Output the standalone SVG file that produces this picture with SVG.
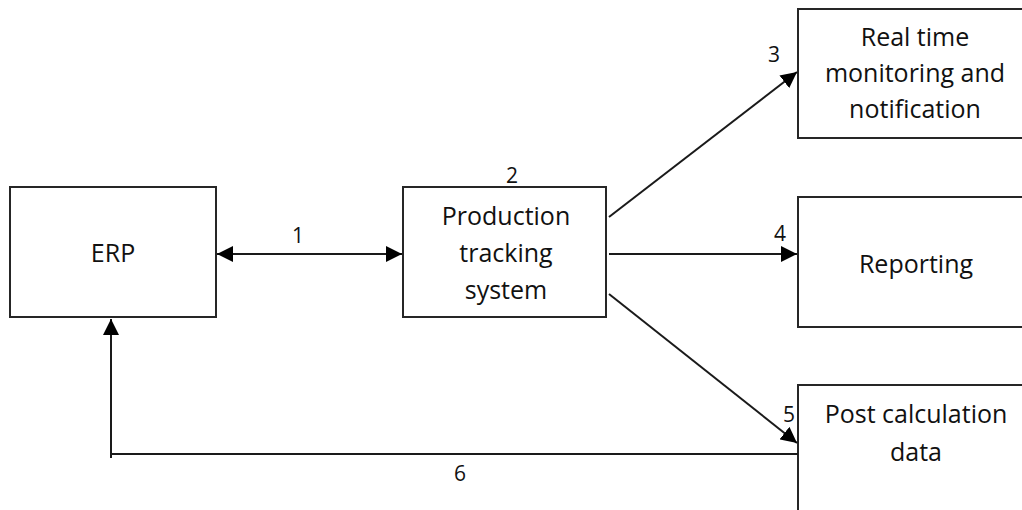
<svg xmlns="http://www.w3.org/2000/svg" width="1022" height="510" viewBox="0 0 1022 510">
<style>
.box{fill:#fff;stroke:#262626;stroke-width:2}
.t{font-family:"Open Sans","Noto Sans",sans-serif;font-size:25px;fill:#111;text-anchor:middle}
.n{font-family:"Open Sans","Noto Sans",sans-serif;font-size:21px;fill:#111;text-anchor:middle}
.c{fill:none;stroke:#1a1a1a;stroke-width:2}
</style>
<defs>
<marker id="ahb" viewBox="0 0 10 10" refX="10" refY="5" markerWidth="16" markerHeight="16" markerUnits="userSpaceOnUse" orient="auto-start-reverse">
<path d="M0,0 L10,5 L0,10 z" fill="#000"/>
</marker>
</defs>
<rect width="1022" height="510" fill="#fff"/>
<g id="erp"><rect class="box" x="10" y="187" width="206" height="130"/><text class="t" x="113" y="262">ERP</text></g>
<g id="pts"><rect class="box" x="403" y="187" width="203" height="130"/>
<text class="t" x="506" y="225">Production</text><text class="t" x="506" y="262">tracking</text><text class="t" x="506" y="299">system</text></g>
<g id="rtm"><rect class="box" x="798" y="9" width="226" height="129"/>
<text class="t" x="915" y="46">Real time</text><text class="t" x="915" y="82">monitoring and</text><text class="t" x="915" y="118">notification</text></g>
<g id="rep"><rect class="box" x="798" y="197" width="226" height="130"/><text class="t" x="916" y="273">Reporting</text></g>
<g id="post"><rect class="box" x="798" y="385" width="226" height="140"/>
<text class="t" x="916" y="423">Post calculation</text><text class="t" x="916" y="461">data</text></g>
<g id="connectors">
<line class="c" x1="217" y1="254" x2="402" y2="254" marker-start="url(#ahb)" marker-end="url(#ahb)"/>
<line class="c" x1="609" y1="217" x2="797" y2="72" marker-end="url(#ahb)"/>
<line class="c" x1="609" y1="254" x2="797" y2="254" marker-end="url(#ahb)"/>
<line class="c" x1="609" y1="294" x2="797" y2="443" marker-end="url(#ahb)"/>
<polyline class="c" points="798,454 111,454 111,319" marker-end="url(#ahb)"/>
<line class="c" x1="111" y1="454" x2="111" y2="458"/>
</g>
<g id="labels">
<text class="n" x="298" y="243">1</text>
<text class="n" x="512" y="183">2</text>
<text class="n" x="774" y="62">3</text>
<text class="n" x="780" y="241">4</text>
<text class="n" x="789" y="422">5</text>
<text class="n" x="460" y="481">6</text>
</g>
</svg>
